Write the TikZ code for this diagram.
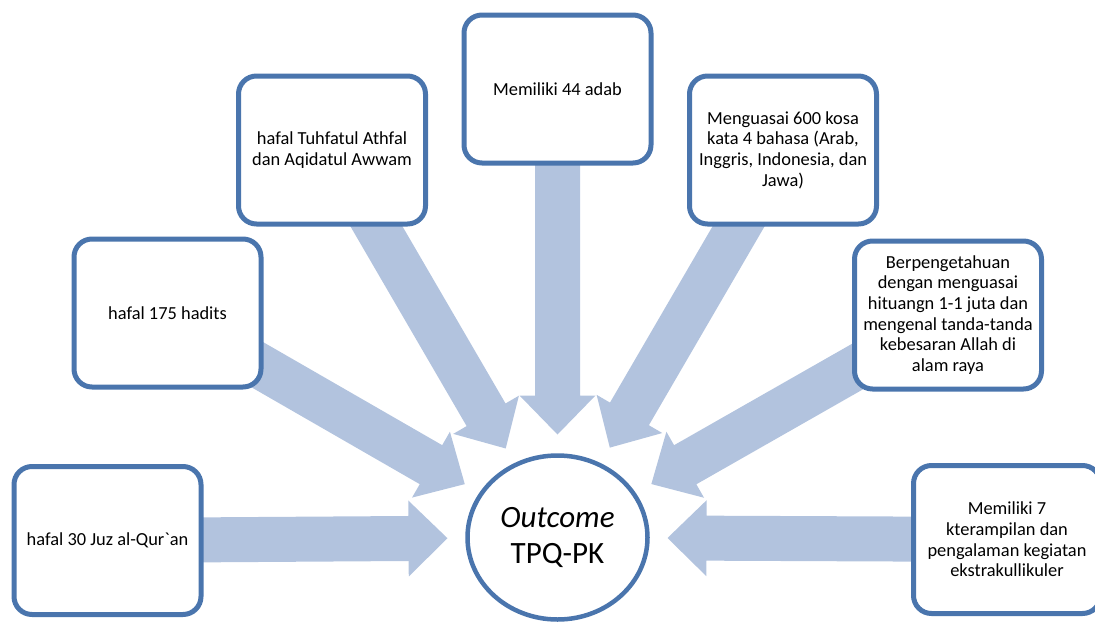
\documentclass[tikz,border=0pt]{standalone}
\usepackage{fontspec}
\setmainfont{Carlito}
\usetikzlibrary{calc,shapes.geometric,backgrounds}
\definecolor{bordc}{RGB}{74,117,173}
\definecolor{arrc}{RGB}{178,195,222}
\tikzset{
  box/.style={draw=bordc, line width=5pt, fill=white, rounded corners=18pt,
    minimum width=187pt, minimum height=148pt, align=center, inner sep=0pt,
    font=\fontsize{18.4pt}{20.7pt}\selectfont},
  hub/.style={draw=bordc, line width=4.5pt, fill=white, ellipse, inner sep=0pt,
    minimum width=180pt, minimum height=164pt, align=center,
    font=\fontsize{31pt}{36pt}\selectfont},
  blockfill/.style={fill=arrc}
}
% #1 = start node, #2 = tip coordinate
\newcommand\blockarrow[2]{%
  \coordinate (hb) at ($(#2)!39pt!(#1.center)$);
  \fill[blockfill] ($(#1.center)!22.5pt!90:(#2)$) -- ($(hb)!22.5pt!90:(#2)$)
    -- ($(hb)!38pt!90:(#2)$) -- (#2) -- ($(hb)!38pt!-90:(#2)$)
    -- ($(hb)!22.5pt!-90:(#2)$) -- ($(#1.center)!22.5pt!-90:(#2)$) -- cycle;}
\begin{document}
\begin{tikzpicture}[x=1pt,y=-1pt]
\useasboundingbox (0,0) rectangle (1095,624);
\clip (0,0) rectangle (1095,624);
\node[box] (b1) at (107.5,540.5) {hafal 30 Juz al-Qur\textasciigrave an};
\node[box] (b2) at (167.5,313) {hafal 175 hadits};
\node[box] (b3) at (332,150) {hafal Tuhfatul Athfal\\dan Aqidatul Awwam};
\node[box] (b4) at (557.5,89) {Memiliki 44 adab};
\node[box] (b5) at (783,150) {Menguasai 600 kosa\\kata 4 bahasa (Arab,\\Inggris, Indonesia, dan\\Jawa)};
\node[box] (b6) at (948,315) {Berpengetahuan\\dengan menguasai\\hituangn 1-1 juta dan\\mengenal tanda-tanda\\kebesaran Allah di\\alam raya};
\node[box] (b7) at (1007,539.5) {Memiliki 7\\kterampilan dan\\pengalaman kegiatan\\ekstrakullikuler};
\node[hub] (c) at (557.5,537.5) {\textit{Outcome}\\TPQ-PK};
\coordinate (t1) at ($(c.center)!110pt!(b1.center)$);
\coordinate (t2) at ($(c.center)!107pt!(b2.center)$);
\coordinate (t3) at ($(c.center)!103pt!(b3.center)$);
\coordinate (t4) at ($(c.center)!103pt!(b4.center)$);
\coordinate (t5) at ($(c.center)!104pt!(b5.center)$);
\coordinate (t6) at ($(c.center)!108pt!(b6.center)$);
\coordinate (t7) at ($(c.center)!110pt!(b7.center)$);
\begin{scope}[on background layer]
\blockarrow{b1}{t1}
\blockarrow{b2}{t2}
\blockarrow{b3}{t3}
\blockarrow{b4}{t4}
\blockarrow{b5}{t5}
\blockarrow{b6}{t6}
\blockarrow{b7}{t7}
\end{scope}
\end{tikzpicture}
\end{document}
